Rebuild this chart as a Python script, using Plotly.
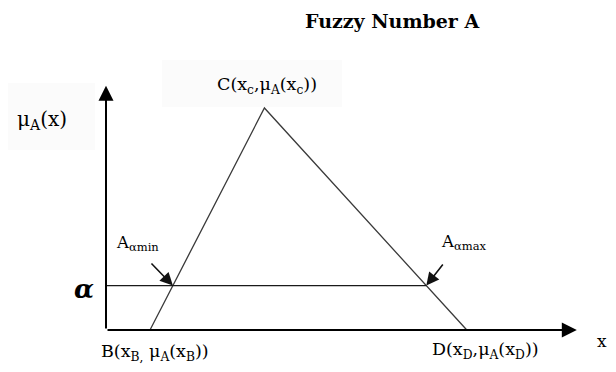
import plotly.graph_objects as go

# ---- data (conceptual fuzzy number, arbitrary units) ----
point_names = ["B", "C", "D"]
x_points = [1.0, 3.6, 8.2]        # x_B, x_C, x_D
mu_points = [0.0, 1.0, 0.0]       # membership values
alpha_level = 0.2
x_axis_end = 10.7
y_axis_end = 1.10

# ---- derived alpha-cut endpoints ----
xB, xC, xD = x_points
a_min = xB + alpha_level * (xC - xB)
a_max = xC + (1 - alpha_level) * (xD - xC)

# layout mapping helpers (window pixel -> data) for text placement
X0, UX = 106, 44.0
Y0, UY = 330, 222.0
PAGE_OFF = 8  # default body margin of the html page
def px_x(p):
    return (p - X0) / UX
def px_y(p):
    return (Y0 - p) / UY

FONT = "DejaVu Serif, Liberation Serif, serif"

fig = go.Figure()

# faint label backgrounds
fig.add_shape(type="rect", x0=px_x(8), x1=px_x(95), y0=px_y(150), y1=px_y(83),
              fillcolor="#fbfbfb", line_width=0, layer="below")
fig.add_shape(type="rect", x0=px_x(162), x1=px_x(342), y0=px_y(107), y1=px_y(60),
              fillcolor="#fbfbfb", line_width=0, layer="below")

# triangle
fig.add_trace(go.Scatter(x=x_points, y=mu_points, mode="lines",
                         line=dict(color="#3a3a3a", width=1.3),
                         hoverinfo="skip", showlegend=False))
# alpha-cut line
fig.add_trace(go.Scatter(x=[0, a_max], y=[alpha_level, alpha_level], mode="lines",
                         line=dict(color="#1a1a1a", width=1.3),
                         hoverinfo="skip", showlegend=False))

# axes with arrows
for (xe, ye) in [(x_axis_end, 0), (0, y_axis_end)]:
    fig.add_annotation(x=xe, y=ye, ax=0, ay=0, xref="x", yref="y",
                       axref="x", ayref="y", text="", showarrow=True,
                       arrowhead=2, arrowsize=1.5, arrowwidth=2, arrowcolor="black")

# callout arrows
fig.add_annotation(x=a_min, y=alpha_level, ax=px_x(150), ay=px_y(262),
                   xref="x", yref="y", axref="x", ayref="y", text="",
                   showarrow=True, arrowhead=2, arrowsize=1.6, arrowwidth=1.6,
                   arrowcolor="#111")
fig.add_annotation(x=a_max, y=alpha_level, ax=px_x(444), ay=px_y(263),
                   xref="x", yref="y", axref="x", ayref="y", text="",
                   showarrow=True, arrowhead=2, arrowsize=1.6, arrowwidth=1.6,
                   arrowcolor="#111")

def label(text, xp, yp, size=17.5, anchor="center", **kw):
    fig.add_annotation(x=px_x(xp), y=px_y(yp), xref="x", yref="y", text=text,
                       showarrow=False, xanchor=anchor, yanchor="middle",
                       font=dict(family=FONT, size=size, color="black"), **kw)

label("<b>Fuzzy Number A</b>", 392, 21, size=19)
label("μ<sub>A</sub>(x)", 15, 120, size=20, anchor="left")
label("C(x<sub>c</sub>,μ<sub>A</sub>(x<sub>c</sub>))", 215, 85, anchor="left")
label("A<sub>αmin</sub>", 114, 243, size=16.5, anchor="left")
label("A<sub>αmax</sub>", 439, 242, size=16.5, anchor="left")
label("<b><i>α</i></b>", 84, 289, size=26)
label("B(x<sub>B,</sub> μ<sub>A</sub>(x<sub>B</sub>))", 99, 352, anchor="left")
label("D(x<sub>D</sub>,μ<sub>A</sub>(x<sub>D</sub>))", 430, 350, anchor="left")
label("x", 602, 341, size=17)

fig.update_layout(
    width=616 - 2 * PAGE_OFF, height=372 - 2 * PAGE_OFF, autosize=False,
    margin=dict(l=0, r=0, t=0, b=0),
    paper_bgcolor="white", plot_bgcolor="white",
    xaxis=dict(range=[px_x(PAGE_OFF), px_x(616 - PAGE_OFF)], visible=False,
               fixedrange=True),
    yaxis=dict(range=[px_y(372 - PAGE_OFF), px_y(PAGE_OFF)], visible=False,
               fixedrange=True),
    showlegend=False,
)

fig.write_html("out.html", config={"displayModeBar": False})
